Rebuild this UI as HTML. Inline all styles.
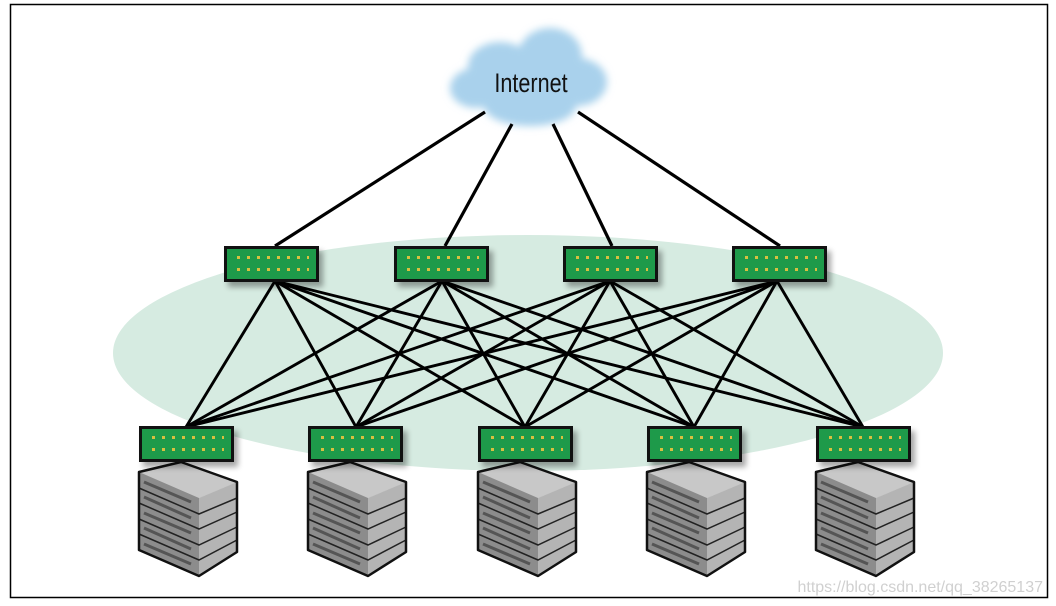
<!DOCTYPE html>
<html><head><meta charset="utf-8"><style>
html,body{margin:0;padding:0;background:#fff;}
svg{display:block;}
</style></head><body>
<svg width="1056" height="606" viewBox="0 0 1056 606" xmlns="http://www.w3.org/2000/svg">
<defs>
<filter id="blur" x="-20%" y="-20%" width="140%" height="140%"><feGaussianBlur stdDeviation="4"/></filter>
<filter id="sh" x="-20%" y="-20%" width="150%" height="180%"><feGaussianBlur stdDeviation="3"/></filter>
<g id="sw">
<rect x="4" y="5" width="95" height="36" fill="#000" opacity="0.35" filter="url(#sh)"/>
<rect x="1.5" y="1.5" width="92" height="33" fill="#1e9a4a" stroke="#111" stroke-width="3"/>
<g fill="#d8c040">
<rect x="13" y="10" width="3" height="3"/><rect x="23" y="10" width="3" height="3"/><rect x="33" y="10" width="3" height="3"/><rect x="43" y="10" width="3" height="3"/><rect x="53" y="10" width="3" height="3"/><rect x="63" y="10" width="3" height="3"/><rect x="73" y="10" width="3" height="3"/><rect x="83" y="10" width="2" height="3"/>
<rect x="13" y="22" width="3" height="3"/><rect x="23" y="22" width="3" height="3"/><rect x="33" y="22" width="3" height="3"/><rect x="43" y="22" width="3" height="3"/><rect x="53" y="22" width="3" height="3"/><rect x="63" y="22" width="3" height="3"/><rect x="73" y="22" width="3" height="3"/><rect x="83" y="22" width="2" height="3"/>
</g>
</g>
<g id="srv">
<polygon points="0,12 42,2 98,22 60,38 60,116 0,90" fill="#9a9a9a"/>
<polygon points="0,12 60,38 60,116 0,90" fill="#8c8c8c"/>
<polygon points="60,38 98,22 98,92 60,116" fill="#b4b4b4"/>
<polygon points="0,12 42,2 98,22 60,38" fill="#c8c8c8"/>
<g stroke="#222" stroke-width="1.5" fill="none">
<path d="M0,28 L60,54 L98,38"/><path d="M0,43 L60,69 L98,52"/><path d="M0,59 L60,85 L98,67"/><path d="M0,74 L60,100 L98,80"/>
</g>
<g stroke="#555" stroke-width="3">
<path d="M5,22 L52,42"/><path d="M5,37 L52,58"/><path d="M5,53 L52,73"/><path d="M5,68 L52,89"/><path d="M5,84 L52,104"/>
</g>
<polygon points="0,12 42,2 98,22 98,92 60,116 0,90" fill="none" stroke="#111" stroke-width="2.5" stroke-linejoin="round"/>
</g>
</defs>
<rect x="10.5" y="4.5" width="1037" height="593" fill="#fff" stroke="#000" stroke-width="1.5"/>
<ellipse cx="528" cy="353" rx="415" ry="118" fill="#d6ebe1"/>
<g filter="url(#blur)" fill="#a9d1ec">
<ellipse cx="528" cy="85" rx="64" ry="30"/>
<ellipse cx="500" cy="66" rx="32" ry="24"/>
<ellipse cx="550" cy="56" rx="32" ry="28"/>
<ellipse cx="577" cy="82" rx="30" ry="24"/>
<ellipse cx="476" cy="88" rx="26" ry="20"/>
<ellipse cx="530" cy="106" rx="46" ry="20"/>
</g>
<text x="0" y="0" text-anchor="middle" font-family="Liberation Sans, sans-serif" font-size="27" fill="#111" transform="translate(531,92) scale(0.8,1)">Internet</text>
<g stroke="#000" stroke-width="3.2" fill="none">
<line x1="485" y1="112" x2="275" y2="246"/>
<line x1="512" y1="124" x2="445" y2="246"/>
<line x1="553" y1="124" x2="612" y2="246"/>
<line x1="578" y1="112" x2="780" y2="246"/>
</g>
<g stroke="#000" stroke-width="2.9" fill="none">
<path d="M275,281L186,427M275,281L356,427M275,281L525,427M275,281L694,427M275,281L863,427"/>
<path d="M442,281L186,427M442,281L356,427M442,281L525,427M442,281L694,427M442,281L863,427"/>
<path d="M610,281L186,427M610,281L356,427M610,281L525,427M610,281L694,427M610,281L863,427"/>
<path d="M777,281L186,427M777,281L356,427M777,281L525,427M777,281L694,427M777,281L863,427"/>
</g>
<use href="#sw" x="224" y="246"/>
<use href="#sw" x="394" y="246"/>
<use href="#sw" x="563" y="246"/>
<use href="#sw" x="732" y="246"/>
<use href="#srv" x="139" y="460"/>
<use href="#srv" x="308" y="460"/>
<use href="#srv" x="478" y="460"/>
<use href="#srv" x="647" y="460"/>
<use href="#srv" x="816" y="460"/>
<use href="#sw" x="139" y="426"/>
<use href="#sw" x="308" y="426"/>
<use href="#sw" x="478" y="426"/>
<use href="#sw" x="647" y="426"/>
<use href="#sw" x="816" y="426"/>
<text x="1043" y="592" text-anchor="end" font-family="Liberation Sans, sans-serif" font-size="16" fill="#d0d0d0">https://blog.csdn.net/qq_38265137</text>
</svg>
</body></html>
